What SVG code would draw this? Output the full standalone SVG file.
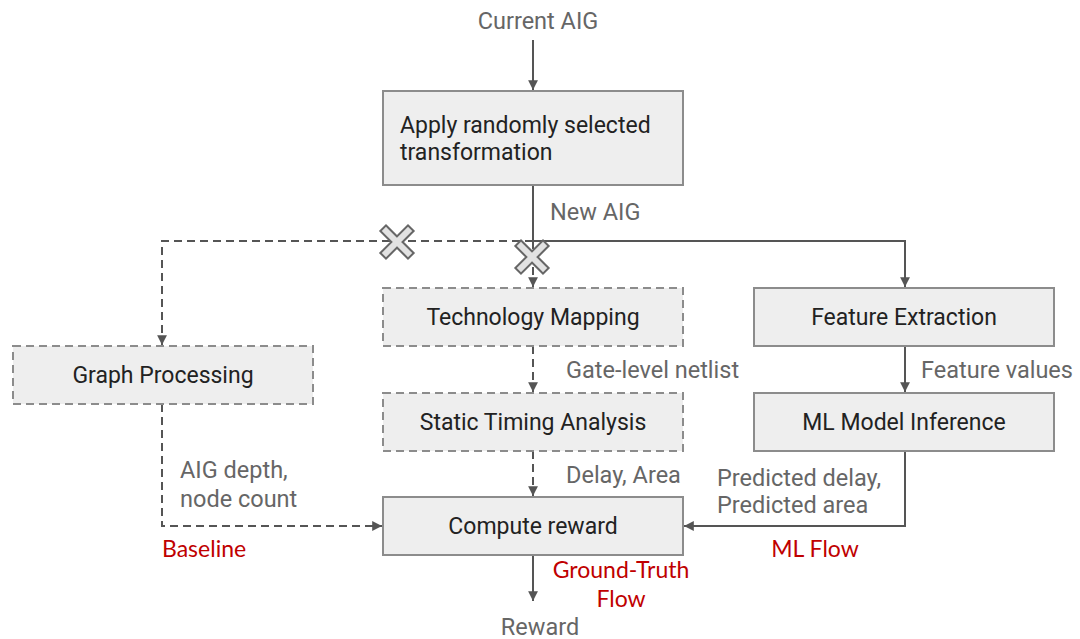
<svg xmlns="http://www.w3.org/2000/svg" width="1080" height="639" viewBox="0 0 1080 639">
<style>
.box{fill:#eeeeee;stroke:#8c8c8c;stroke-width:2}
.dbox{fill:#eeeeee;stroke:#8c8c8c;stroke-width:2;stroke-dasharray:8 5}
.nt{font-family:Roboto,"Liberation Sans",sans-serif;font-size:23px;fill:#222}
.lt{font-family:Roboto,"Liberation Sans",sans-serif;font-size:23.5px;fill:#666}
.rt{font-family:Lato,"Open Sans","Liberation Sans",sans-serif;font-size:23px;fill:#c00000}
.ln{fill:none;stroke:#555;stroke-width:2}
.dl{fill:none;stroke:#555;stroke-width:2;stroke-dasharray:8 5}
.xo{stroke:#666;stroke-width:10;stroke-linecap:square}
.xi{stroke:#e2e2e2;stroke-width:6;stroke-linecap:square}
</style>
<defs>
<marker id="ah" viewBox="0 0 10 10" refX="10" refY="5" markerWidth="7" markerHeight="7" markerUnits="userSpaceOnUse" orient="auto" style="overflow:visible">
<path d="M0,0 L10,5 L0,10 z" fill="#555" transform="scale(1.4) translate(-2.9,-1.45)"/>
</marker>
</defs>
<text class="lt" x="538" y="29" text-anchor="middle">Current AIG</text>
<g id="connectors">
<path class="ln" d="M533,40 V90" marker-end="url(#ah)"/>
<path class="ln" d="M533,185 V241 H905 V287" marker-end="url(#ah)"/>
<path class="dl" d="M533,241 H162 V345" marker-end="url(#ah)"/>
<path class="dl" d="M533,241 V287" marker-end="url(#ah)"/>
<path class="dl" d="M533,346 V392" marker-end="url(#ah)"/>
<path class="dl" d="M533,451 V496" marker-end="url(#ah)"/>
<path class="ln" d="M905,346 V392" marker-end="url(#ah)"/>
<path class="ln" d="M905,451 V526 H684" marker-end="url(#ah)"/>
<path class="dl" d="M162,404 V526 H382" marker-end="url(#ah)"/>
<path class="ln" d="M533,555 V601" marker-end="url(#ah)"/>
</g>
<g id="x1">
<path class="xo" d="M386,231 L408,253 M408,231 L386,253"/>
<path class="xi" d="M386,231 L408,253 M408,231 L386,253"/>
</g>
<g id="x2">
<path class="xo" d="M521,246 L543,268 M543,246 L521,268"/>
<path class="xi" d="M521,246 L543,268 M543,246 L521,268"/>
</g>
<g id="apply">
<rect class="box" x="383" y="91" width="300" height="94"/>
<text class="nt" x="400" y="133">Apply randomly selected</text>
<text class="nt" x="400" y="160">transformation</text>
</g>
<text class="lt" x="550" y="220">New AIG</text>
<g id="techmap">
<rect class="dbox" x="383" y="288" width="300" height="58"/>
<text class="nt" x="533" y="325" text-anchor="middle">Technology Mapping</text>
</g>
<g id="graphproc">
<rect class="dbox" x="13" y="346" width="300" height="58"/>
<text class="nt" x="163" y="383" text-anchor="middle">Graph Processing</text>
</g>
<g id="featext">
<rect class="box" x="754" y="288" width="300" height="58"/>
<text class="nt" x="904" y="325" text-anchor="middle">Feature Extraction</text>
</g>
<text class="lt" x="566" y="378">Gate-level netlist</text>
<text class="lt" x="921" y="378">Feature values</text>
<g id="sta">
<rect class="dbox" x="383" y="393" width="300" height="58"/>
<text class="nt" x="533" y="430" text-anchor="middle">Static Timing Analysis</text>
</g>
<g id="mlinf">
<rect class="box" x="754" y="393" width="300" height="58"/>
<text class="nt" x="904" y="430" text-anchor="middle">ML Model Inference</text>
</g>
<text class="lt" x="566" y="483">Delay, Area</text>
<text class="lt" x="180" y="478">AIG depth,</text>
<text class="lt" x="180" y="507">node count</text>
<text class="lt" x="717" y="486">Predicted delay,</text>
<text class="lt" x="717" y="513">Predicted area</text>
<g id="compute">
<rect class="box" x="383" y="497" width="300" height="58"/>
<text class="nt" x="533" y="534" text-anchor="middle">Compute reward</text>
</g>
<text class="rt" x="162" y="557">Baseline</text>
<text class="rt" x="815" y="557" text-anchor="middle">ML Flow</text>
<text class="rt" x="621" y="578" text-anchor="middle">Ground-Truth</text>
<text class="rt" x="621" y="607" text-anchor="middle">Flow</text>
<text class="lt" x="540" y="635" text-anchor="middle">Reward</text>
</svg>
